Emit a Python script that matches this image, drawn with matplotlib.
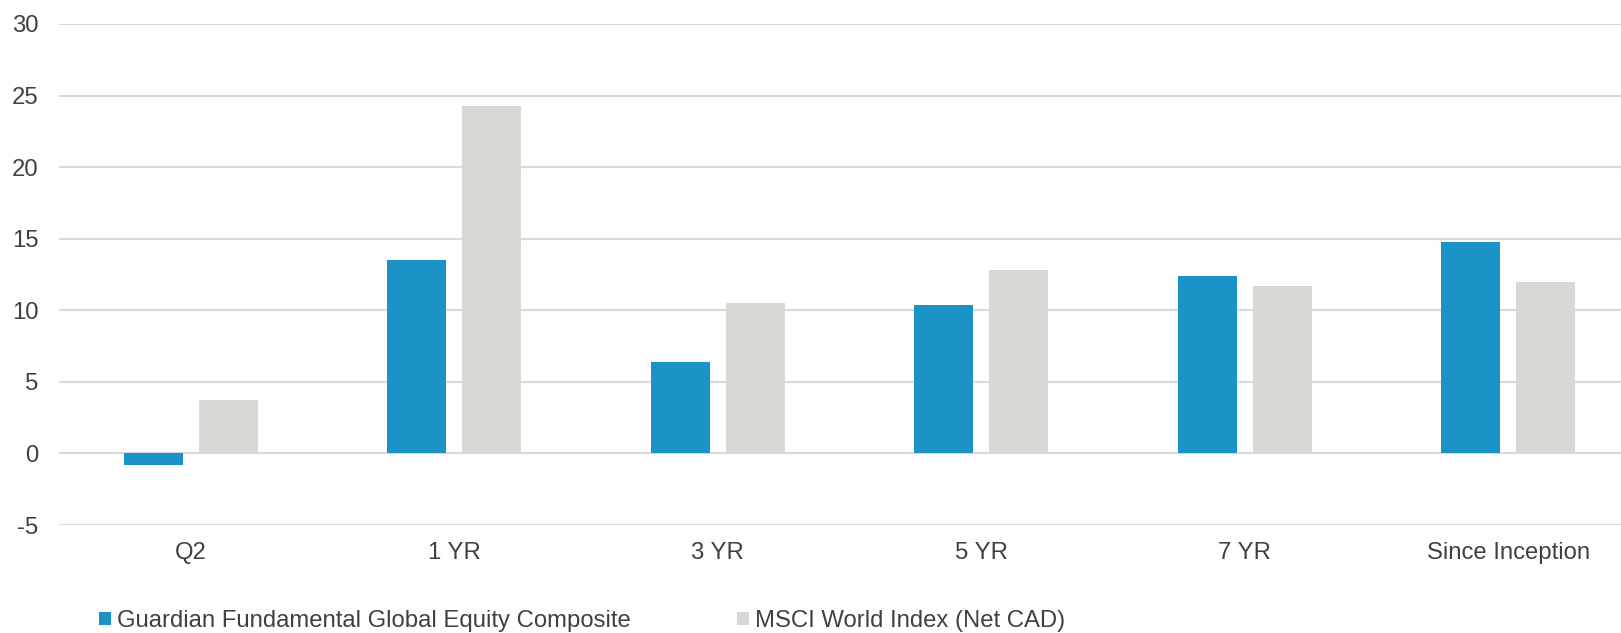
import matplotlib.pyplot as plt
import numpy as np

plt.rcParams['font.family'] = ['Liberation Sans', 'DejaVu Sans']
plt.rcParams['axes.unicode_minus'] = False

# === Data ===
periods = ["Q2", "1 YR", "3 YR", "5 YR", "7 YR", "Since Inception"]
guardian = [-0.8, 13.5, 6.4, 10.4, 12.4, 14.8]
msci = [3.7, 24.3, 10.5, 12.8, 11.7, 12.0]
series_names = ["Guardian Fundamental Global Equity Composite",
                "MSCI World Index (Net CAD)"]
yticks = [-5, 0, 5, 10, 15, 20, 25, 30]

blue = "#1c93c7"
grey = "#d8d9d5"
text_col = "#404040"

fig = plt.figure(figsize=(16.21, 6.33), dpi=100)
ax = fig.add_axes([0.0366, 0.1706, 0.975, 0.7915])

x = np.arange(len(periods))
w = 0.224
off = 0.1425
ax.bar(x - off, guardian, w, color=blue, label=series_names[0], zorder=3)
ax.bar(x + off, msci, w, color=grey, label=series_names[1], zorder=3)

# === Axes formatting ===
ax.set_xlim(-0.5, 5.5)
ax.set_ylim(-5, 30)
ax.set_yticks(yticks)
ax.set_xticks(x)
ax.set_xticklabels(periods)
ax.yaxis.grid(True, color="#d9d9d9", linewidth=1.5, zorder=0)
ax.set_axisbelow(True)
for s in ax.spines.values():
    s.set_visible(False)
ax.tick_params(axis="both", length=0, labelsize=17.2, labelcolor=text_col)
ax.tick_params(axis="y", pad=15)
ax.tick_params(axis="x", pad=12.5)

leg = fig.legend(loc="center left", bbox_to_anchor=(0.0608, 0.019), ncol=2,
                 frameon=False, fontsize=17.2, handlelength=0.52,
                 handleheight=0.52, handletextpad=0.25, columnspacing=4.45,
                 borderaxespad=0, borderpad=0)
for t in leg.get_texts():
    t.set_color(text_col)

fig.savefig("out.png", dpi=100)
